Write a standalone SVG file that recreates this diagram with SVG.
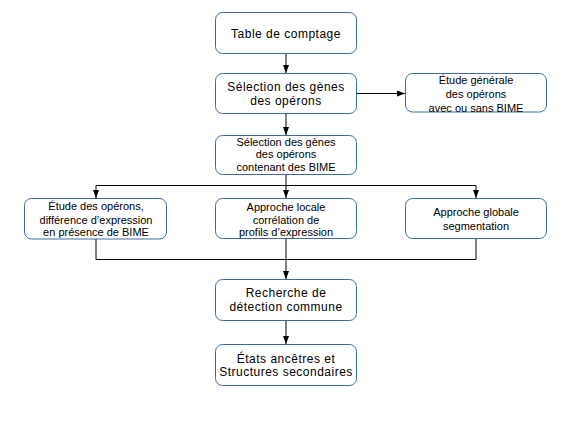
<svg xmlns="http://www.w3.org/2000/svg" width="567" height="425" viewBox="0 0 567 425">
<defs>
<marker id="arr" viewBox="0 0 8 8" refX="8" refY="4" markerWidth="8" markerHeight="8" markerUnits="userSpaceOnUse" orient="auto">
<path d="M0,1 L8,4 L0,7 Z" fill="#000"/>
</marker>
<style>
.box{fill:#fff;stroke:#3c6aa8;stroke-width:1}
.t{font-family:"Liberation Sans",Arial,sans-serif;font-size:12px;letter-spacing:0.5px;fill:#000;text-anchor:middle}
.s{font-size:11px;letter-spacing:0}
.c{fill:none;stroke:#000;stroke-width:1}
</style>
</defs>
<rect width="567" height="425" fill="#fff"/>
<g id="connectors">
<line class="c" x1="286" y1="53.5" x2="286" y2="73" marker-end="url(#arr)"/>
<line class="c" x1="286" y1="113.5" x2="286" y2="135" marker-end="url(#arr)"/>
<line class="c" x1="356.5" y1="93.5" x2="405" y2="93.5" marker-end="url(#arr)"/>
<polyline class="c" points="286,174.5 286,185.5"/>
<line class="c" x1="96" y1="185.5" x2="476" y2="185.5"/>
<line class="c" x1="96" y1="185.5" x2="96" y2="198" marker-end="url(#arr)"/>
<line class="c" x1="286" y1="185.5" x2="286" y2="198" marker-end="url(#arr)"/>
<line class="c" x1="476" y1="185.5" x2="476" y2="198" marker-end="url(#arr)"/>
<polyline class="c" points="96,239 96,259.5 476,259.5 476,238.5"/>
<line class="c" x1="286" y1="238.5" x2="286" y2="279" marker-end="url(#arr)"/>
<line class="c" x1="286" y1="320.5" x2="286" y2="344" marker-end="url(#arr)"/>
</g>
<g id="n1">
<rect class="box" x="215.5" y="12.5" width="141" height="41" rx="7"/>
<text class="t" x="286" y="37.5">Table de comptage</text>
</g>
<g id="n2">
<rect class="box" x="215.5" y="73.5" width="141" height="40" rx="7"/>
<text class="t" x="286" y="91">Sélection des gènes</text>
<text class="t" x="286" y="104.5">des opérons</text>
</g>
<g id="n3">
<rect class="box" x="405.5" y="73.5" width="141" height="38.5" rx="7"/>
<text class="t s" x="476" y="84">Étude générale</text>
<text class="t s" x="476" y="98">des opérons</text>
<text class="t s" x="476" y="111.5">avec ou sans BIME</text>
</g>
<g id="n4">
<rect class="box" x="215.5" y="135.5" width="141" height="39" rx="7"/>
<text class="t s" x="286" y="145.5">Sélection des gènes</text>
<text class="t s" x="286" y="158">des opérons</text>
<text class="t s" x="286" y="170.5">contenant des BIME</text>
</g>
<g id="n5">
<rect class="box" x="24.5" y="198.5" width="142" height="40.5" rx="7"/>
<text class="t s" x="96" y="210">Étude des opérons,</text>
<text class="t s" x="96" y="223.5">différence d’expression</text>
<text class="t s" x="96" y="236">en présence de BIME</text>
</g>
<g id="n6">
<rect class="box" x="215.5" y="198.5" width="141" height="40" rx="7"/>
<text class="t s" x="286" y="211">Approche locale</text>
<text class="t s" x="286" y="224">corrélation de</text>
<text class="t s" x="286" y="236">profils d’expression</text>
</g>
<g id="n7">
<rect class="box" x="405.5" y="198.5" width="141" height="40" rx="7"/>
<text class="t s" x="476" y="215.5">Approche globale</text>
<text class="t s" x="476" y="230">segmentation</text>
</g>
<g id="n8">
<rect class="box" x="215.5" y="279.5" width="141" height="41" rx="7"/>
<text class="t" x="286" y="297">Recherche de</text>
<text class="t" x="286" y="311">détection commune</text>
</g>
<g id="n9">
<rect class="box" x="215.5" y="344.5" width="141" height="41" rx="7"/>
<text class="t" x="286" y="362.5">États ancêtres et</text>
<text class="t" x="286" y="376">Structures secondaires</text>
</g>
</svg>
